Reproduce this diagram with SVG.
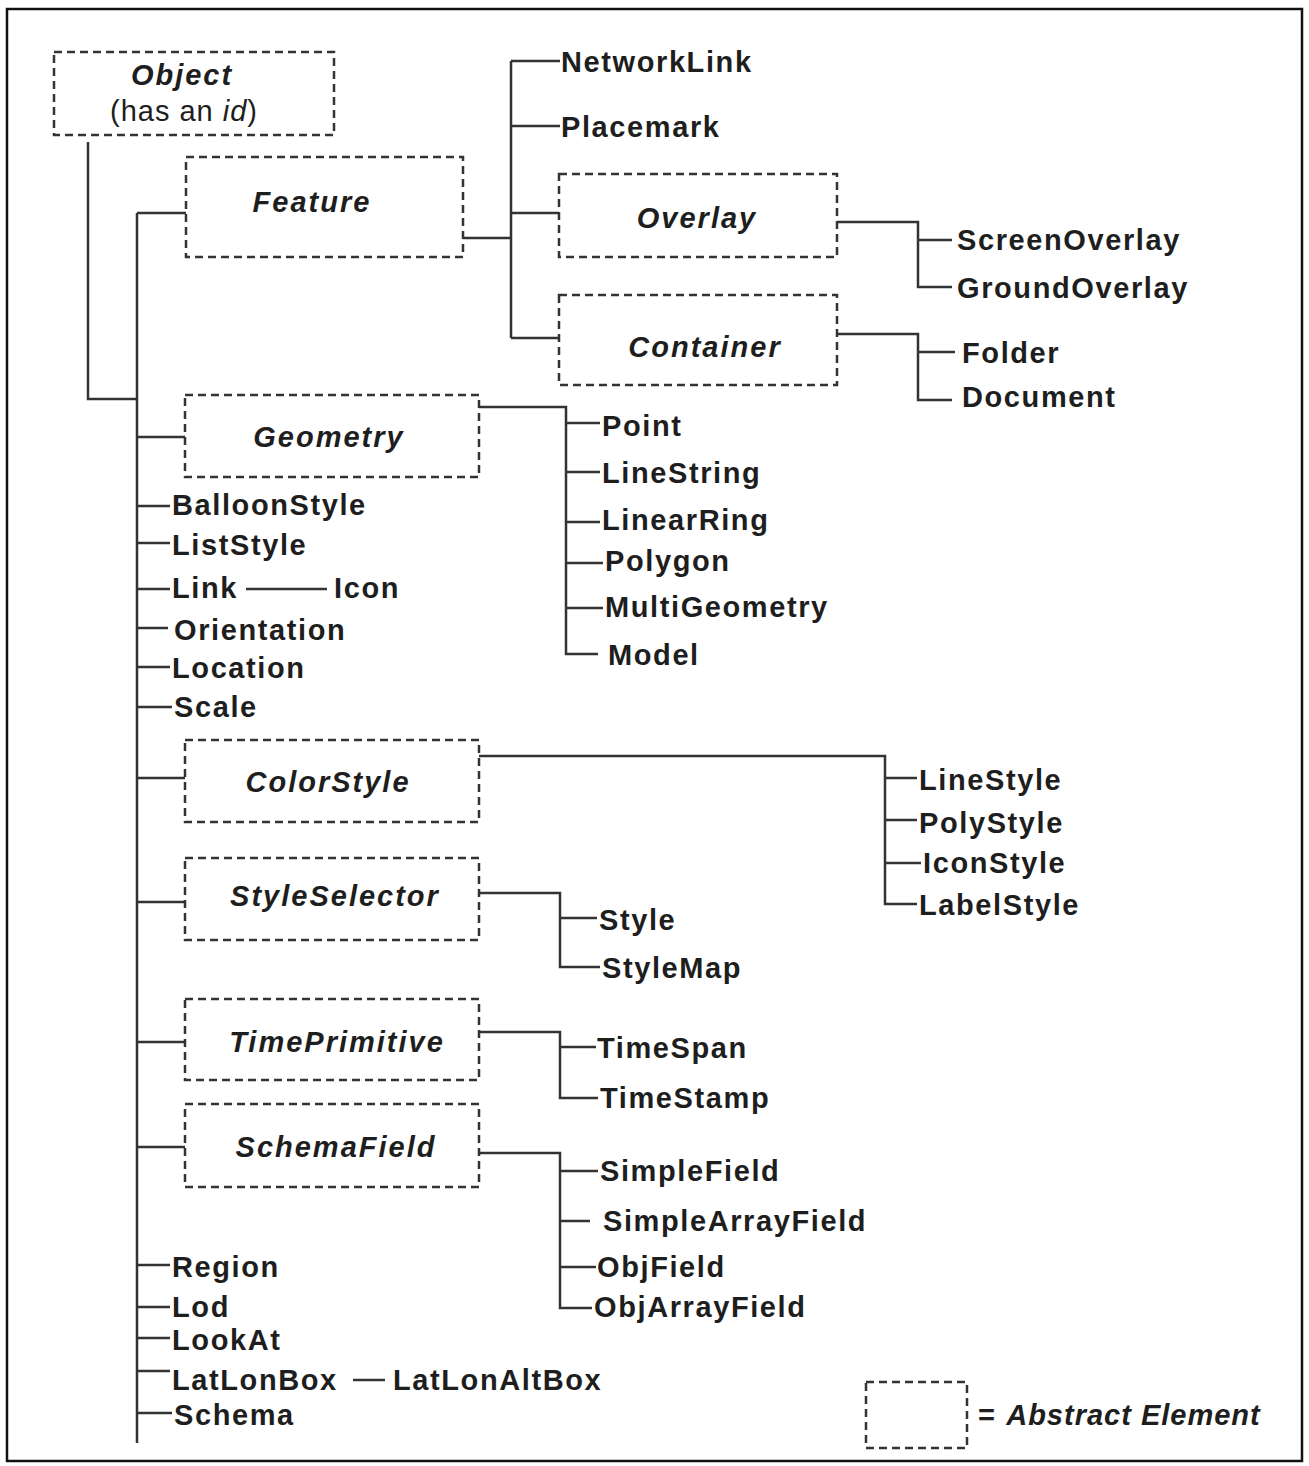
<svg xmlns="http://www.w3.org/2000/svg" width="1309" height="1466" viewBox="0 0 1309 1466">
<style>
.bg{fill:#ffffff}
.frame{fill:none;stroke:#111;stroke-width:2.5}
.abs{fill:none;stroke:#333;stroke-width:2.5;stroke-dasharray:8 5}
.ln{fill:none;stroke:#333;stroke-width:2.5}
text{font-family:"Liberation Sans",Arial,sans-serif;font-size:29px;fill:#1e1e1e;letter-spacing:1.6px}
.lbl{font-weight:bold}
.it{font-weight:bold;font-style:italic;letter-spacing:2px}
.reg{font-weight:normal;letter-spacing:1px}
.c{text-anchor:middle}
</style>
<rect class="bg" x="0" y="0" width="1309" height="1466"/>
<rect class="frame" x="7" y="9" width="1295" height="1452"/>

<g id="connectors">
<path class="ln" d="M88,142 V399 H137"/>
<path class="ln" d="M137,213 V1443"/>
<path class="ln" d="M137,213 H186"/>
<path class="ln" d="M463,238 H511"/>
<path class="ln" d="M511,61 V338"/>
<path class="ln" d="M511,61 H560 M511,126 H560 M511,213 H559 M511,338 H559"/>
<path class="ln" d="M837,222 H918 V287 H952 M918,240 H952"/>
<path class="ln" d="M837,334 H918 V400 H952 M918,352 H955"/>
<path class="ln" d="M137,437 H185"/>
<path class="ln" d="M479,407 H566 V654 H598 M566,423 H600 M566,472 H600 M566,522 H600 M566,563 H603 M566,608 H603"/>
<path class="ln" d="M137,506 H170 M137,543 H170 M137,589 H170 M137,628 H168 M137,667 H170 M137,707 H172"/>
<path class="ln" d="M246,589 H327"/>
<path class="ln" d="M137,778 H185"/>
<path class="ln" d="M479,756 H885 V904 H917 M885,778 H917 M885,820 H917 M885,863 H921"/>
<path class="ln" d="M137,902 H185"/>
<path class="ln" d="M479,893 H560 V967 H600 M560,918 H597"/>
<path class="ln" d="M137,1042 H185"/>
<path class="ln" d="M479,1032 H560 V1098 H598 M560,1047 H596"/>
<path class="ln" d="M137,1147 H185"/>
<path class="ln" d="M479,1153 H560 V1308 H592 M560,1171 H598 M560,1221 H590 M560,1267 H596"/>
<path class="ln" d="M137,1265 H170 M137,1307 H170 M137,1338 H170 M137,1371 H170 M137,1413 H172"/>
<path class="ln" d="M353,1380 H385"/>
</g>

<g id="object">
<rect class="abs" x="54" y="52" width="280" height="83"/>
<text class="it c" x="182" y="85">Object</text>
<text class="reg c" x="184" y="121">(has an <tspan font-style="italic">id</tspan>)</text>
</g>
<g id="feature">
<rect class="abs" x="186" y="157" width="277" height="100"/>
<text class="it c" x="312" y="212">Feature</text>
</g>
<g id="networklink"><text class="lbl" x="561" y="72">NetworkLink</text></g>
<g id="placemark"><text class="lbl" x="561" y="137">Placemark</text></g>
<g id="overlay">
<rect class="abs" x="559" y="174" width="278" height="83"/>
<text class="it c" x="697" y="228">Overlay</text>
</g>
<g id="screenoverlay"><text class="lbl" x="957" y="250">ScreenOverlay</text></g>
<g id="groundoverlay"><text class="lbl" x="957" y="298">GroundOverlay</text></g>
<g id="container">
<rect class="abs" x="559" y="295" width="278" height="90"/>
<text class="it c" x="705" y="357">Container</text>
</g>
<g id="folder"><text class="lbl" x="962" y="363">Folder</text></g>
<g id="document"><text class="lbl" x="962" y="407">Document</text></g>

<g id="geometry">
<rect class="abs" x="185" y="395" width="294" height="82"/>
<text class="it c" x="329" y="447">Geometry</text>
</g>
<g id="point"><text class="lbl" x="602" y="436">Point</text></g>
<g id="linestring"><text class="lbl" x="602" y="483">LineString</text></g>
<g id="linearring"><text class="lbl" x="602" y="530">LinearRing</text></g>
<g id="polygon"><text class="lbl" x="605" y="571">Polygon</text></g>
<g id="multigeometry"><text class="lbl" x="605" y="617">MultiGeometry</text></g>
<g id="model"><text class="lbl" x="608" y="665">Model</text></g>

<g id="balloonstyle"><text class="lbl" x="172" y="515">BalloonStyle</text></g>
<g id="liststyle"><text class="lbl" x="172" y="555">ListStyle</text></g>
<g id="link"><text class="lbl" x="172" y="598">Link</text></g>
<g id="icon"><text class="lbl" x="334" y="598">Icon</text></g>
<g id="orientation"><text class="lbl" x="174" y="640">Orientation</text></g>
<g id="location"><text class="lbl" x="172" y="678">Location</text></g>
<g id="scale"><text class="lbl" x="174" y="717">Scale</text></g>

<g id="colorstyle">
<rect class="abs" x="185" y="740" width="294" height="82"/>
<text class="it c" x="328" y="792">ColorStyle</text>
</g>
<g id="linestyle"><text class="lbl" x="919" y="790">LineStyle</text></g>
<g id="polystyle"><text class="lbl" x="919" y="833">PolyStyle</text></g>
<g id="iconstyle"><text class="lbl" x="923" y="873">IconStyle</text></g>
<g id="labelstyle"><text class="lbl" x="919" y="915">LabelStyle</text></g>

<g id="styleselector">
<rect class="abs" x="185" y="858" width="294" height="82"/>
<text class="it c" x="335" y="906">StyleSelector</text>
</g>
<g id="style"><text class="lbl" x="599" y="930">Style</text></g>
<g id="stylemap"><text class="lbl" x="602" y="978">StyleMap</text></g>

<g id="timeprimitive">
<rect class="abs" x="185" y="999" width="294" height="81"/>
<text class="it c" x="337" y="1052">TimePrimitive</text>
</g>
<g id="timespan"><text class="lbl" x="597" y="1058">TimeSpan</text></g>
<g id="timestamp"><text class="lbl" x="600" y="1108">TimeStamp</text></g>

<g id="schemafield">
<rect class="abs" x="185" y="1104" width="294" height="83"/>
<text class="it c" x="336" y="1157">SchemaField</text>
</g>
<g id="simplefield"><text class="lbl" x="600" y="1181">SimpleField</text></g>
<g id="simplearrayfield"><text class="lbl" x="603" y="1231">SimpleArrayField</text></g>
<g id="objfield"><text class="lbl" x="597" y="1277">ObjField</text></g>
<g id="objarrayfield"><text class="lbl" x="594" y="1317">ObjArrayField</text></g>

<g id="region"><text class="lbl" x="172" y="1277">Region</text></g>
<g id="lod"><text class="lbl" x="172" y="1317">Lod</text></g>
<g id="lookat"><text class="lbl" x="172" y="1350">LookAt</text></g>
<g id="latlonbox"><text class="lbl" x="172" y="1390">LatLonBox</text></g>
<g id="latlonaltbox"><text class="lbl" x="393" y="1390">LatLonAltBox</text></g>
<g id="schema"><text class="lbl" x="174" y="1425">Schema</text></g>

<g id="legend">
<rect class="abs" x="866" y="1382" width="101" height="66"/>
<text class="lbl" x="978" y="1425">= <tspan font-style="italic" letter-spacing="1px">Abstract Element</tspan></text>
</g>
</svg>
